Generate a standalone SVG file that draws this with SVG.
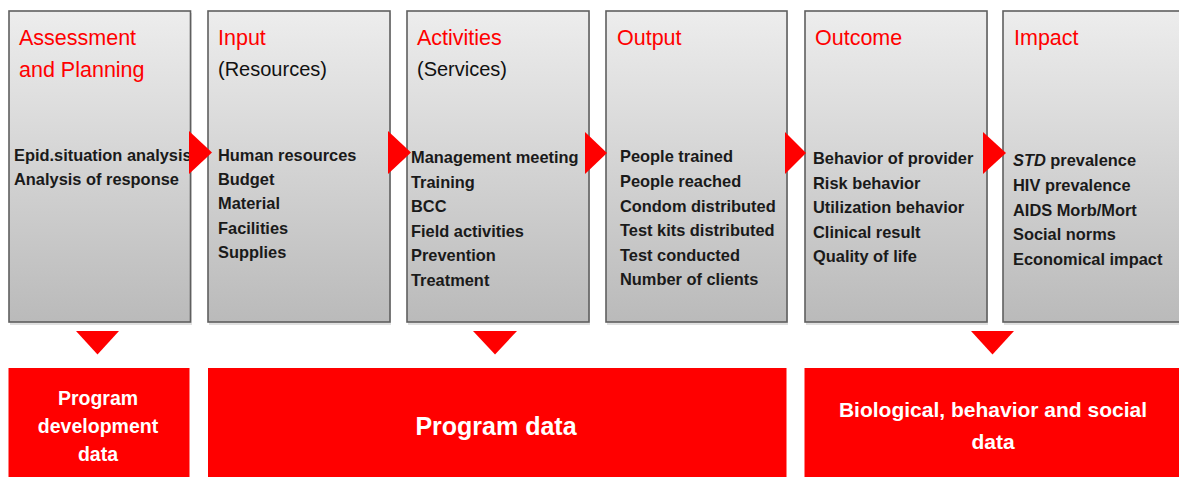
<svg xmlns="http://www.w3.org/2000/svg" width="1179" height="477" viewBox="0 0 1179 477">
<style>
.box{fill:url(#g);stroke:#5f5f5f;stroke-width:1.6}
.sh{fill:#000;opacity:0.12}
.title{font-family:"Liberation Sans",Arial,sans-serif;font-size:21.5px;fill:#ff0000}
.sub{font-family:"Liberation Sans",Arial,sans-serif;font-size:20px;fill:#111}
.item{font-family:"Liberation Sans",Arial,sans-serif;font-size:16.4px;font-weight:bold;fill:#1a1a1a}
.red{fill:#ff0000}
.wt{font-family:"Liberation Sans",Arial,sans-serif;font-weight:bold;fill:#ffffff;text-anchor:middle}
.arr{fill:#ff0000}
</style>
<defs>
<linearGradient id="g" x1="0" y1="0" x2="0" y2="1">
<stop offset="0" stop-color="#ededed"/>
<stop offset="1" stop-color="#bababa"/>
</linearGradient>
</defs>
<rect width="1179" height="477" fill="#ffffff"/>

<g id="assessment">
<rect class="sh" x="10" y="13" width="182" height="312"/>
<rect class="box" x="9" y="11" width="181.5" height="311"/>
<text class="title" x="19" y="45">Assessment</text>
<text class="title" x="19" y="77">and Planning</text>
<text class="item" x="14" y="161">Epid.situation analysis</text>
<text class="item" x="14" y="185">Analysis of response</text>
</g>

<g id="input">
<rect class="sh" x="209" y="13" width="182" height="312"/>
<rect class="box" x="208" y="11" width="182" height="311"/>
<text class="title" x="218" y="45">Input</text>
<text class="sub" x="218" y="76">(Resources)</text>
<text class="item" x="218" y="161">Human resources</text>
<text class="item" x="218" y="185">Budget</text>
<text class="item" x="218" y="209">Material</text>
<text class="item" x="218" y="234">Facilities</text>
<text class="item" x="218" y="258">Supplies</text>
</g>

<g id="activities">
<rect class="sh" x="408" y="13" width="182" height="312"/>
<rect class="box" x="407" y="11" width="182" height="311"/>
<text class="title" x="417" y="45">Activities</text>
<text class="sub" x="417" y="76">(Services)</text>
<text class="item" x="411" y="163">Management meeting</text>
<text class="item" x="411" y="188">Training</text>
<text class="item" x="411" y="212">BCC</text>
<text class="item" x="411" y="237">Field activities</text>
<text class="item" x="411" y="261">Prevention</text>
<text class="item" x="411" y="286">Treatment</text>
</g>

<g id="output">
<rect class="sh" x="607" y="13" width="181" height="312"/>
<rect class="box" x="606" y="11" width="181" height="311"/>
<text class="title" x="617" y="45">Output</text>
<text class="item" x="620" y="162">People trained</text>
<text class="item" x="620" y="187">People reached</text>
<text class="item" x="620" y="212">Condom distributed</text>
<text class="item" x="620" y="236">Test kits distributed</text>
<text class="item" x="620" y="261">Test conducted</text>
<text class="item" x="620" y="285">Number of clients</text>
</g>

<g id="outcome">
<rect class="sh" x="806" y="13" width="182" height="312"/>
<rect class="box" x="805" y="11" width="182" height="311"/>
<text class="title" x="815" y="45">Outcome</text>
<text class="item" x="813" y="164">Behavior of provider</text>
<text class="item" x="813" y="189">Risk behavior</text>
<text class="item" x="813" y="213">Utilization behavior</text>
<text class="item" x="813" y="238">Clinical result</text>
<text class="item" x="813" y="262">Quality of life</text>
</g>

<g id="impact">
<rect class="sh" x="1004" y="13" width="190" height="312"/>
<rect class="box" x="1003" y="11" width="190" height="311"/>
<text class="title" x="1014" y="45">Impact</text>
<text class="item" x="1013" y="166"><tspan font-style="italic">STD</tspan> prevalence</text>
<text class="item" x="1013" y="191">HIV prevalence</text>
<text class="item" x="1013" y="216">AIDS Morb/Mort</text>
<text class="item" x="1013" y="240">Social norms</text>
<text class="item" x="1013" y="265">Economical impact</text>
</g>

<g id="program-development-data">
<rect class="red" x="8.5" y="368" width="181" height="110"/>
<text class="wt" x="98" y="405" font-size="19.5">Program</text>
<text class="wt" x="98" y="433" font-size="19.5">development</text>
<text class="wt" x="98" y="461" font-size="19.5">data</text>
</g>

<g id="program-data">
<rect class="red" x="208" y="368" width="578.5" height="110"/>
<text class="wt" x="496" y="435" font-size="25">Program data</text>
</g>

<g id="biological-data">
<rect class="red" x="804.5" y="368" width="380" height="110"/>
<text class="wt" x="993" y="417" font-size="21">Biological, behavior and social</text>
<text class="wt" x="993" y="449" font-size="21">data</text>
</g>

<g id="connectors">
<polygon class="arr" points="189,131 189,174 212,152.5"/>
<polygon class="arr" points="388,131 388,174 411,152.5"/>
<polygon class="arr" points="585,132 585,174 607,153"/>
<polygon class="arr" points="785,132 785,174 806,153"/>
<polygon class="arr" points="983,132 983,174 1006,153"/>
<polygon class="arr" points="76,331 119,331 97.5,354.5"/>
<polygon class="arr" points="473,331 517,331 495,354.5"/>
<polygon class="arr" points="971,331 1014,331 992.5,354.5"/>
</g>
</svg>
